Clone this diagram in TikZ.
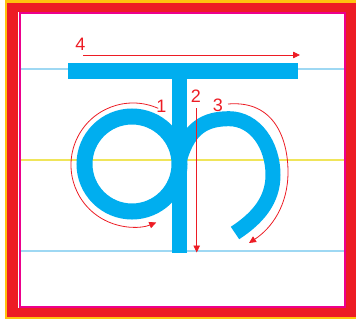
\documentclass[tikz,border=0pt]{standalone}
\usepackage{fontspec}
\setmainfont{Liberation Sans}
\usetikzlibrary{arrows.meta}

\definecolor{frameYellow}{HTML}{FFC20E}
\definecolor{frameRed}{HTML}{ED1C24}
\definecolor{frameMagenta}{HTML}{EC008C}
\definecolor{letterBlue}{HTML}{00AEEF}
\definecolor{guideBlue}{HTML}{9ED8F3}
\definecolor{guideYellow}{HTML}{F0E55A}
\definecolor{arrowRed}{HTML}{ED1C24}

\begin{document}
\begin{tikzpicture}[
    x=1pt, y=-1pt,
    >={Triangle[length=7pt,width=6.5pt]},
    guideline/.style={line width=2pt},
    penstroke/.style={draw=letterBlue, line width=16pt},
    orderarrow/.style={->, draw=arrowRed, line width=0.8pt},
    steplabel/.style={text=arrowRed, inner sep=0pt, font=\fontsize{18}{18}\selectfont}
]
\useasboundingbox (0,0) rectangle (356,324);

% --- Frame ---
\fill[frameYellow] (5,0) rectangle (356,319);
\fill[frameRed] (7.3,2.7) rectangle (356,316.7);
\fill[white] (18,11.7) rectangle (346.3,308);
\draw[frameMagenta, line width=2pt] (20,13) rectangle (345.3,307);

% --- Guide lines ---
\foreach \y/\c in {69/guideBlue, 160/guideYellow, 250.5/guideBlue}
    \draw[guideline, \c] (21,\y) -- (344,\y);

% --- Letter ---
\coordinate (loopc) at (132,164);
\draw[penstroke] (loopc) circle[radius=47.5];
\draw[penstroke, line width=15pt] (180,158)
    .. controls (189,128) and (205,118.7) .. (229,118.7)
    .. controls (255,118.7) and (273,145) .. (273,175)
    .. controls (273,200) and (258,218) .. (235,233);
\fill[letterBlue] (172,63) rectangle (187,253);
\fill[letterBlue] (68,63) rectangle (298,79);

% --- Stroke order ---
% 1. loop
\coordinate (arcc) at (133,165);
\node[steplabel] (n1) at (161.5,106.5) {1};
\draw[orderarrow] ([shift={(-66:62)}]arcc) arc[start angle=-66, end angle=-292, radius=62];

% 2. stem
\coordinate (s2) at (196.7,108);
\coordinate (e2) at (196.7,252.5);
\node[steplabel] (n2) at (196,96.3) {2};
\draw[orderarrow] (s2) -- (e2);

% 3. hook
\coordinate (s3) at (228,104);
\coordinate (e3) at (249,243);
\node[steplabel] (n3) at (218,105) {3};
\draw[orderarrow] (s3) .. controls (275,100) and (288,140) .. (288,172)
    .. controls (288,205) and (272,228) .. (e3);

% 4. top bar
\coordinate (s4) at (83,55);
\coordinate (e4) at (300,55);
\node[steplabel] (n4) at (80.5,44) {4};
\draw[orderarrow] (s4) -- (e4);

\end{tikzpicture}
\end{document}
